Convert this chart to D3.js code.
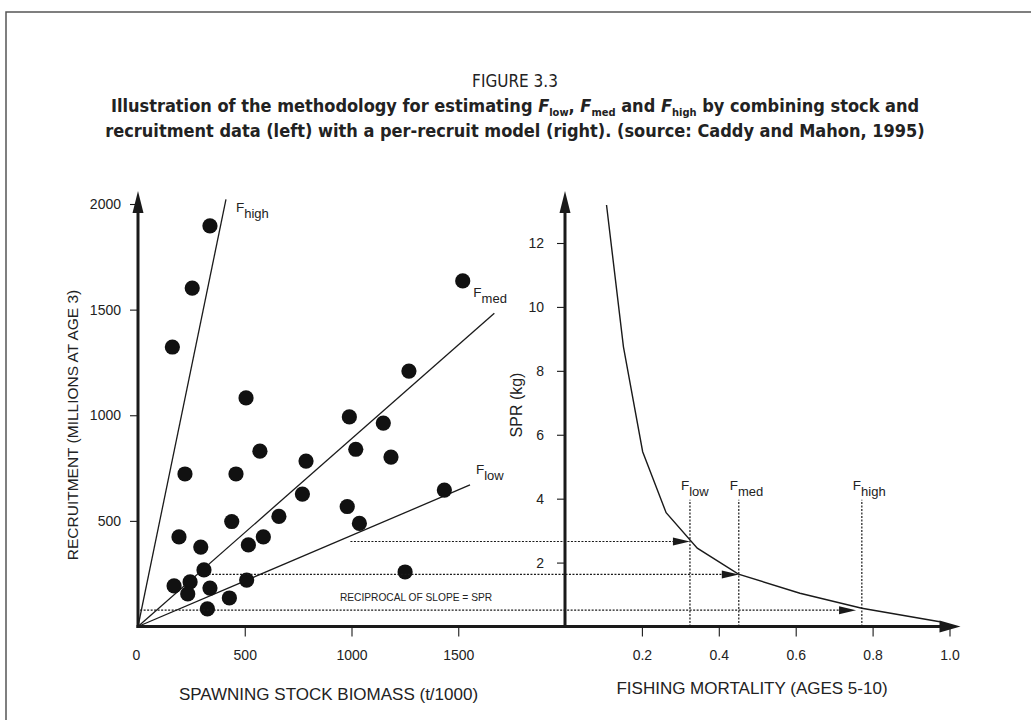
<!DOCTYPE html>
<html><head><meta charset="utf-8">
<script src="https://cdn.jsdelivr.net/npm/d3@7"></script>
<style>
body{margin:0;background:#fff;}
svg{display:block;font-family:"Liberation Sans",Arial,sans-serif;}
</style></head>
<body><svg id="c" width="1031" height="720"></svg>
<script>
// ---- data ----
const ssb = [337,254,161,506,1521,1269,990,1149,571,1020,787,1185,220,459,770,1435,980,1037,660,439,192,294,587,517,309,1251,244,169,233,337,509,428,325];
const recruits = [1896,1602,1323,1082,1636,1209,992,963,830,839,783,802,722,722,627,646,568,488,521,497,424,376,424,386,268,258,211,192,154,182,220,135,83];
const refNames = ["high","med","low"];
const refEndSSB = [412,1669,1555];
const refEndRec = [2022,1483,670];
const fishingF = [0.108,0.152,0.202,0.263,0.344,0.451,0.611,0.772,0.975];
const sprValues = [13.19,8.75,5.47,3.56,2.45,1.64,1.04,0.57,0.15];
const refF = [0.325,0.452,0.772];
const arrowSPR = [2.66,1.63,0.51];
const arrowStartSSB = [995,330,10];
const arrowEndF = [0.325,0.452,0.757];
const ssbTicks = [0,500,1000,1500];
const recTicks = [500,1000,1500,2000];
const fTicks = [0.2,0.4,0.6,0.8,1.0];
const sprTicks = [2,4,6,8,10,12];

const svg = d3.select("#c");
const ink = "#1a1a1a";

// frame
svg.append("rect").attr("x",6).attr("y",12).attr("width",1040).attr("height",720)
  .attr("fill","none").attr("stroke","#555").attr("stroke-width",1.5);

// title
const tf = '"Liberation Sans Narrow","DejaVu Sans Condensed",sans-serif';
svg.append("text").attr("x",515).attr("y",87).attr("text-anchor","middle")
  .style("font-family",tf).style("font-size","17px").attr("fill","#222").text("FIGURE 3.3");
const t2 = svg.append("text").attr("x",515).attr("y",112).attr("text-anchor","middle")
  .style("font-family",tf).style("font-size","18px").style("font-weight","bold").attr("fill","#222");
function sub(t, base, s){
  t.append("tspan").style("font-style","italic").text("F");
  t.append("tspan").attr("dy",4).style("font-size","11px").text(s);
  t.append("tspan").attr("dy",-4).text(base);
}
t2.append("tspan").text("Illustration of the methodology for estimating ");
sub(t2, ", ", "low"); sub(t2, " and ", "med"); sub(t2, " by combining stock and", "high");
svg.append("text").attr("x",515).attr("y",137).attr("text-anchor","middle")
  .style("font-family",tf).style("font-size","18px").style("font-weight","bold").attr("fill","#222")
  .text("recruitment data (left) with a per-recruit model (right). (source: Caddy and Mahon, 1995)");

// scales
const base = 626.5;
const xL = d3.scaleLinear().domain([0,2000]).range([138,565]);
const yL = d3.scaleLinear().domain([0,2000]).range([base,204]);
const xR = d3.scaleLinear().domain([0,1]).range([565,949.5]);
const yR = d3.scaleLinear().domain([0,12]).range([base,243]);

// axes (ticks + labels)
function styleAxis(g){ g.select(".domain").remove(); g.selectAll("line").attr("stroke",ink).attr("stroke-width",1.1);
  g.selectAll("text").attr("fill","#222").style("font-size","14px").style("font-family",'"Liberation Sans",Arial,sans-serif'); }
const gxL = svg.append("g").attr("transform",`translate(0,${base})`)
  .call(d3.axisBottom(xL).tickValues(ssbTicks).tickSize(10).tickPadding(14).tickFormat(d3.format("d")));
styleAxis(gxL); gxL.selectAll(".tick").filter(d=>d===0).select("line").remove();
gxL.selectAll(".tick").filter(d=>d===0).select("text").attr("x",-2);
const gyL = svg.append("g").attr("transform",`translate(${xL(0)},0)`)
  .call(d3.axisLeft(yL).tickValues(recTicks).tickSize(8).tickPadding(9).tickFormat(d3.format("d")));
styleAxis(gyL);
const gxR = svg.append("g").attr("transform",`translate(0,${base})`)
  .call(d3.axisBottom(xR).tickValues(fTicks).tickSize(10).tickPadding(14).tickFormat(d3.format(".1f")));
styleAxis(gxR);
const gyR = svg.append("g").attr("transform",`translate(${xR(0)},0)`)
  .call(d3.axisLeft(yR).tickValues(sprTicks).tickSize(8).tickPadding(13));
styleAxis(gyR);

// thick axis lines with arrowheads
const yTop = 191;
svg.append("line").attr("x1",xL(0)).attr("x2",xL(0)).attr("y1",base+1.5).attr("y2",yTop+15).attr("stroke",ink).attr("stroke-width",3);
svg.append("line").attr("x1",xR(0)).attr("x2",xR(0)).attr("y1",base+1.5).attr("y2",yTop+15).attr("stroke",ink).attr("stroke-width",3);
svg.append("line").attr("x1",xL(0)-1.5).attr("x2",xR(1)-5).attr("y1",base).attr("y2",base).attr("stroke",ink).attr("stroke-width",3);
function tri(pts){ svg.append("path").attr("d","M"+pts.map(p=>p.join(",")).join("L")+"Z").attr("fill",ink); }
[xL(0),xR(0)].forEach(x=>tri([[x,yTop],[x-5.5,yTop+22],[x+5.5,yTop+22]]));
const xe = xR(1)+11;
tri([[xe,base],[xe-21,base-6],[xe-21,base+6]]);

// axis titles
svg.append("text").attr("transform","translate(78,425) rotate(-90)").attr("text-anchor","middle")
  .style("font-size","15.5px").attr("fill","#222").text("RECRUITMENT (MILLIONS AT AGE 3)");
svg.append("text").attr("transform","translate(522,405) rotate(-90)").attr("text-anchor","middle")
  .style("font-size","16px").attr("fill","#222").text("SPR (kg)");
svg.append("text").attr("x",328.5).attr("y",700).attr("text-anchor","middle")
  .style("font-size","17px").attr("fill","#222").text("SPAWNING STOCK BIOMASS (t/1000)");
svg.append("text").attr("x",752).attr("y",694).attr("text-anchor","middle")
  .style("font-size","17px").attr("fill","#222").text("FISHING MORTALITY (AGES 5-10)");

// reference lines from origin
refNames.forEach((n,i)=>{
  svg.append("line").attr("x1",xL(0)).attr("y1",yL(0)).attr("x2",xL(refEndSSB[i])).attr("y2",yL(refEndRec[i]))
    .attr("stroke",ink).attr("stroke-width",1.3);
});
function flabel(x,y,s){
  const t = svg.append("text").attr("x",x).attr("y",y).attr("fill","#222").style("font-size","13.5px");
  t.append("tspan").text("F");
  t.append("tspan").attr("dy",6).style("font-size","13px").text(s);
}
flabel(xL(refEndSSB[0])+10, 212, "high");
flabel(xL(refEndSSB[1])-21, 297, "med");
flabel(xL(refEndSSB[2])+6, 474, "low");

// points
svg.append("g").selectAll("circle").data(ssb).join("circle")
  .attr("cx",(d)=>xL(d)).attr("cy",(d,i)=>yL(recruits[i])).attr("r",7.6).attr("fill","#111");

// curve
svg.append("path").datum(fishingF.map((f,i)=>[f,sprValues[i]]))
  .attr("d",d3.line().x(d=>xR(d[0])).y(d=>yR(d[1])))
  .attr("fill","none").attr("stroke",ink).attr("stroke-width",1.4);

// vertical dotted lines + labels
refF.forEach((f,i)=>{
  svg.append("line").attr("x1",xR(f)).attr("x2",xR(f)).attr("y1",yR(0)).attr("y2",yR(3.97))
    .attr("stroke",ink).attr("stroke-width",1.2).attr("stroke-dasharray","2,1.5");
  flabel(xR(f)-9, 490, refNames[[2,1,0][i]]);
});

// horizontal dotted arrows
arrowSPR.forEach((s,i)=>{
  const y = yR(s), x0 = xL(arrowStartSSB[i]), x1 = xR(arrowEndF[i]);
  svg.append("line").attr("x1",x0).attr("x2",x1-16).attr("y1",y).attr("y2",y)
    .attr("stroke",ink).attr("stroke-width",1.2).attr("stroke-dasharray","2,1.5");
  tri([[x1,y],[x1-17,y-4],[x1-17,y+4]]);
});

svg.append("text").attr("x",416).attr("y",601).attr("text-anchor","middle")
  .style("font-size","10.2px").attr("fill","#222").text("RECIPROCAL OF SLOPE = SPR");
</script></body></html>
